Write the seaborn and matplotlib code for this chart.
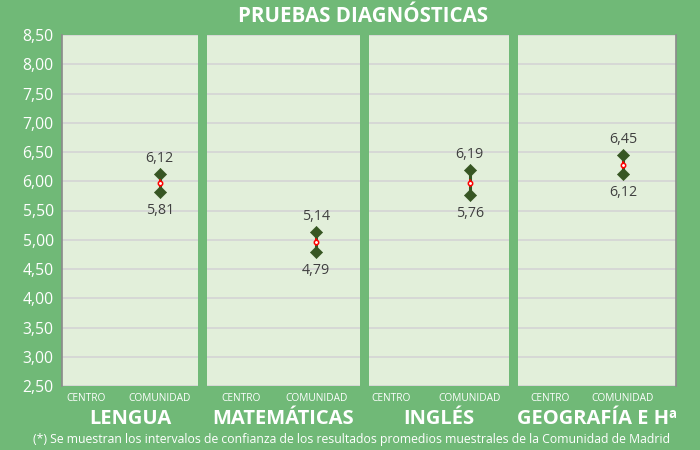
import matplotlib
matplotlib.use("Agg")
import matplotlib.pyplot as plt
import matplotlib.ticker as mticker
import numpy as np
import pandas as pd
import seaborn as sns

# datos: intervalos de confianza de la Comunidad de Madrid
subjects = ["LENGUA", "MATEMÁTICAS", "INGLÉS", "GEOGRAFÍA E Hª"]
groups = ["CENTRO", "COMUNIDAD"]
lower = [5.81, 4.79, 5.76, 6.12]
upper = [6.12, 5.14, 6.19, 6.45]
y_ticks = np.arange(2.5, 8.51, 0.5)

BG = "#70B977"
PANEL = "#E2EFDA"
DARK = "#375623"
TXT = "#404040"

sns.set_theme(style="white")
plt.rcParams["font.family"] = ["Open Sans", "DejaVu Sans"]

rows = []
for s, lo, up in zip(subjects, lower, upper):
    rows.append({"subject": s, "grupo": "COMUNIDAD", "bound": "lower", "value": lo})
    rows.append({"subject": s, "grupo": "COMUNIDAD", "bound": "upper", "value": up})
df = pd.DataFrame(rows)
df["x"] = df["grupo"].map({g: i for i, g in enumerate(groups)})

fig = plt.figure(figsize=(7, 4.5), dpi=100, facecolor=BG)

# panel boxes in pixels (x0, x1) and x-limits of each panel
px = [(62, 198), (207, 360), (369, 509), (518, 676)]
xlims = [(-0.33, 1.52), (-0.45, 1.58), (-0.28, 1.5), (-0.44, 1.73)]
y0, y1 = 35, 386

for i, subj in enumerate(subjects):
    x0, x1 = px[i]
    ax = fig.add_axes([x0 / 700, 1 - y1 / 450, (x1 - x0) / 700, (y1 - y0) / 450])
    ax.set_facecolor(PANEL)
    sub = df[df["subject"] == subj]

    ax.plot(sub["x"], sub["value"], color=DARK, lw=2.2, zorder=3)
    sns.scatterplot(data=sub, x="x", y="value", ax=ax, marker="D", s=38,
                    color=DARK, edgecolor=DARK, legend=False, zorder=4)
    mean = sub["value"].mean()
    ax.plot([sub["x"].iloc[0]] * 2, [mean - 0.05, mean + 0.05], color="red", lw=1.4, zorder=5)
    ax.scatter(sub["x"].iloc[0], mean, s=10, facecolor="white", edgecolor="red",
               linewidth=1.1, zorder=6)

    for _, r in sub.iterrows():
        off = 11 if r["bound"] == "upper" else -13
        ax.annotate(f"{r['value']:.2f}".replace(".", ","), (r["x"], r["value"]),
                    xytext=(0, off), textcoords="offset points", ha="center",
                    va="center", fontsize=10.3, color=TXT)

    ax.set_xlim(*xlims[i])
    ax.set_ylim(2.5, 8.5)
    ax.set_yticks(y_ticks)
    ax.yaxis.grid(True, color="#D4D4D4", lw=1.2)
    ax.set_axisbelow(True)
    ax.set_xticks(range(len(groups)))
    ax.set_xticklabels(groups, fontsize=7.3, color="white")
    ax.tick_params(axis="x", length=0, pad=5)
    ax.set_xlabel(subj, fontsize=14.5, fontweight="bold", color="white", labelpad=4)
    ax.set_ylabel("")
    for sp in ax.spines.values():
        sp.set_visible(False)
    if i == 0:
        ax.yaxis.set_major_formatter(mticker.FuncFormatter(lambda v, p: f"{v:.2f}".replace(".", ",")))
        ax.tick_params(axis="y", length=0, labelsize=11.3, labelcolor="white", pad=6)
        ax.spines["left"].set_visible(True)
        ax.spines["left"].set_color("#8C8C8C")
    else:
        ax.set_yticklabels([])
        ax.tick_params(axis="y", length=0)
    if i == len(subjects) - 1:
        ax.spines["right"].set_visible(True)
        ax.spines["right"].set_color("#8C8C8C")

fig.text(0.519, 1 - 16 / 450, "PRUEBAS DIAGNÓSTICAS", ha="center", va="center",
         fontsize=14.8, fontweight="bold", color="white")
fig.text(0.502, 10 / 450,
         "(*) Se muestran los intervalos de confianza de los resultados promedios muestrales de la Comunidad de Madrid",
         ha="center", va="center", fontsize=8.8, color="white")

fig.savefig("out.png", dpi=100, facecolor=BG)
